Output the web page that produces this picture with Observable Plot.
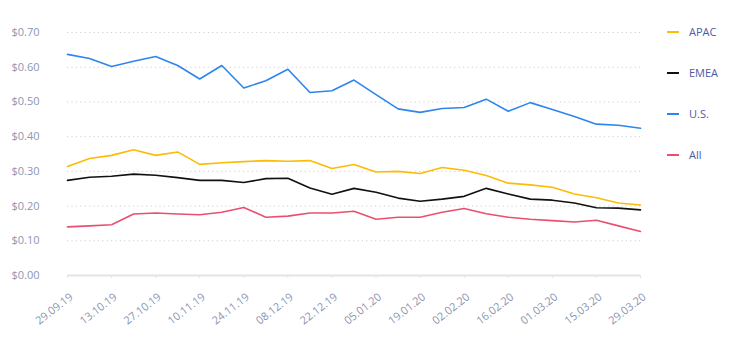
<!DOCTYPE html>
<html>
<head>
<meta charset="utf-8">
<script src="https://cdn.jsdelivr.net/npm/d3@7"></script>
<script src="https://cdn.jsdelivr.net/npm/@observablehq/plot@0.6"></script>
<style>
  body { margin: 0; background: #fff; font-family: "Open Sans", Lato, sans-serif; }
  #wrap { position: relative; width: 730px; height: 353px; }
  #legend { position: absolute; left: 667px; top: 0; font-size: 11px; color: #4c5aa8; }
  .item { position: absolute; left: 0; white-space: nowrap; display: flex; align-items: center; }
  .sw { display: inline-block; width: 12px; height: 2px; margin-right: 10px; }
</style>
</head>
<body>
<div id="wrap"><div id="chart"></div><div id="legend"></div></div>
<script>
const dates = ["2019-09-29","2019-10-06","2019-10-13","2019-10-20","2019-10-27","2019-11-03","2019-11-10","2019-11-17","2019-11-24","2019-12-01","2019-12-08","2019-12-15","2019-12-22","2019-12-29","2020-01-05","2020-01-12","2020-01-19","2020-01-26","2020-02-02","2020-02-09","2020-02-16","2020-02-23","2020-03-01","2020-03-08","2020-03-15","2020-03-22","2020-03-29"];
const tickDates = ["2019-09-29","2019-10-13","2019-10-27","2019-11-10","2019-11-24","2019-12-08","2019-12-22","2020-01-05","2020-01-19","2020-02-02","2020-02-16","2020-03-01","2020-03-15","2020-03-29"];
const yTicks = [0, 0.1, 0.2, 0.3, 0.4, 0.5, 0.6, 0.7];
const seriesNames = ["APAC", "EMEA", "U.S.", "All"];
const seriesColors = ["#fbbc05", "#111111", "#2d85ee", "#e8506e"];
const apac = [0.314,0.337,0.346,0.362,0.346,0.356,0.320,0.325,0.328,0.331,0.329,0.331,0.308,0.320,0.298,0.300,0.294,0.311,0.303,0.288,0.266,0.261,0.254,0.235,0.224,0.209,0.203];
const emea = [0.274,0.283,0.286,0.292,0.289,0.282,0.274,0.274,0.268,0.279,0.280,0.252,0.234,0.251,0.240,0.223,0.214,0.220,0.228,0.251,0.235,0.220,0.217,0.209,0.195,0.194,0.189];
const us   = [0.637,0.625,0.602,0.617,0.631,0.605,0.566,0.605,0.540,0.561,0.594,0.527,0.532,0.563,0.521,0.480,0.470,0.481,0.484,0.508,0.473,0.498,0.478,0.458,0.436,0.433,0.424];
const all  = [0.140,0.143,0.146,0.177,0.180,0.177,0.175,0.182,0.196,0.168,0.171,0.180,0.180,0.185,0.162,0.168,0.168,0.182,0.193,0.178,0.168,0.162,0.158,0.154,0.159,0.143,0.127];

const values = [apac, emea, us, all];
const parse = d3.utcParse("%Y-%m-%d");
const rows = [];
seriesNames.forEach((s, i) => values[i].forEach((v, j) => rows.push({series: s, date: parse(dates[j]), value: v})));

const chart = Plot.plot({
  width: 655,
  height: 353,
  marginLeft: 67,
  marginRight: 15,
  marginTop: 32,
  marginBottom: 78,
  style: {fontFamily: "'Open Sans', Lato, sans-serif", fontSize: "11px", color: "#8e95b2", background: "#fff", overflow: "visible"},
  x: {type: "utc", domain: [parse(dates[0]), parse(dates[dates.length - 1])]},
  y: {domain: [0, 0.7]},
  color: {domain: seriesNames, range: seriesColors},
  marks: [
    Plot.ruleY(yTicks.filter(d => d > 0), {stroke: "#cfcfcf", strokeDasharray: "1.2,3.2", strokeWidth: 1}),
    Plot.ruleY([0], {stroke: "#e4e4e4", strokeWidth: 2}),
    Plot.axisY({ticks: yTicks, tickSize: 0, tickPadding: 28, tickFormat: d => "$" + d.toFixed(2), label: null, fill: "#8e95b2"}),
    Plot.axisX({ticks: tickDates.map(parse), tickFormat: () => "", tickSize: 3, stroke: "#e4e4e4", label: null}),
    Plot.axisX({ticks: tickDates.map(parse), tickFormat: d3.utcFormat("%d.%m.%y"), tickSize: 0, tickRotate: -38, tickPadding: 20, dx: 4, label: null, fill: "#8e95b2"}),
    Plot.line(rows, {x: "date", y: "value", z: "series", stroke: "series", strokeWidth: 1.6, curve: "linear"})
  ]
});
document.getElementById("chart").appendChild(chart);

const legend = document.getElementById("legend");
const legendTops = [32, 73, 114, 155];
seriesNames.forEach((s, i) => {
  const it = document.createElement("div");
  it.className = "item";
  it.style.top = (legendTops[i] - 8) + "px";
  it.innerHTML = `<span class="sw" style="background:${seriesColors[i]}"></span><span>${s}</span>`;
  legend.appendChild(it);
});
</script>
</body>
</html>
